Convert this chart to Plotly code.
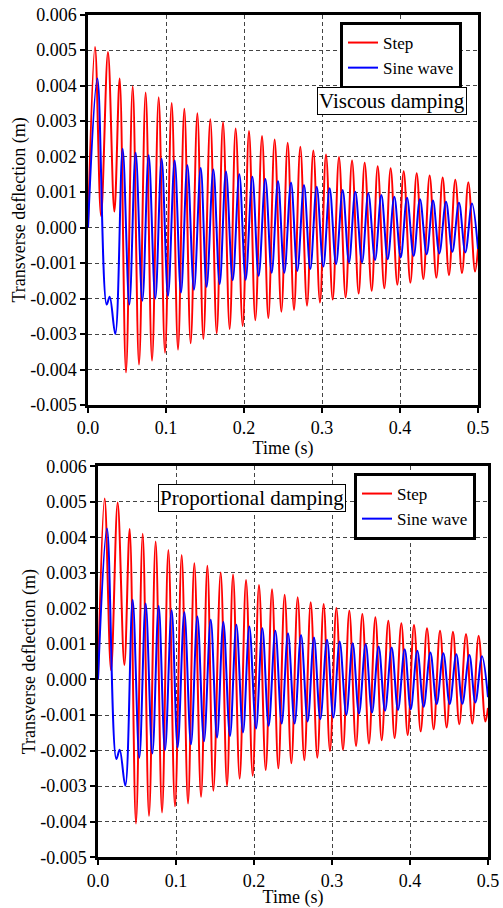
import plotly.graph_objects as go

# ---------------- data ----------------
x_tick_vals = [0.0, 0.1, 0.2, 0.3, 0.4, 0.5]
x_tick_text = ["0.0", "0.1", "0.2", "0.3", "0.4", "0.5"]
y_tick_vals = [0.006, 0.005, 0.004, 0.003, 0.002, 0.001, 0.0, -0.001, -0.002, -0.003, -0.004, -0.005]
y_tick_text = ["0.006", "0.005", "0.004", "0.003", "0.002", "0.001", "0.000",
               "-0.001", "-0.002", "-0.003", "-0.004", "-0.005"]

# Top panel (viscous damping): step response, turning points
top_step_t = [0.0, 0.0090, 0.0167, 0.0256, 0.0338, 0.0406, 0.0487, 0.0573, 0.0654, 0.0739, 0.0821,
              0.0906, 0.0987, 0.1073, 0.1154, 0.1235, 0.1316, 0.1402, 0.1479, 0.1568, 0.1650,
              0.1731, 0.1816, 0.1893, 0.1983, 0.2064, 0.2145, 0.2231, 0.2312, 0.2393, 0.2479,
              0.2560, 0.2641, 0.2722, 0.2808, 0.2889, 0.2974, 0.3051, 0.3137, 0.3218, 0.3303,
              0.3385, 0.3470, 0.3547, 0.3637, 0.3714, 0.3799, 0.3880, 0.3966, 0.4047, 0.4133,
              0.4214, 0.4299, 0.4380, 0.4466, 0.4547, 0.4628, 0.4709, 0.4795, 0.4876, 0.4962, 0.5000]
top_step_v = [0.0, 0.00509, 0.00033, 0.00495, 0.00045, 0.00420, -0.00408, 0.00398, -0.00386, 0.00381, -0.00375,
              0.00367, -0.00353, 0.00351, -0.00344, 0.00335, -0.00326, 0.00322, -0.00314, 0.00305, -0.00298,
              0.00297, -0.00286, 0.00279, -0.00277, 0.00272, -0.00261, 0.00258, -0.00255, 0.00248, -0.00237,
              0.00239, -0.00232, 0.00228, -0.00220, 0.00217, -0.00211, 0.00206, -0.00203, 0.00199, -0.00197,
              0.00189, -0.00186, 0.00183, -0.00178, 0.00173, -0.00171, 0.00167, -0.00161, 0.00159, -0.00155,
              0.00153, -0.00145, 0.00147, -0.00141, 0.00141, -0.00134, 0.00135, -0.00128, 0.00128, -0.00124, -0.00060]

# Top panel: sine-wave response
top_sine_t = [0.0, 0.0120, 0.0239, 0.0278, 0.0350, 0.0444, 0.0530, 0.0611, 0.0697, 0.0778, 0.0863,
              0.0944, 0.1026, 0.1111, 0.1192, 0.1274, 0.1359, 0.1445, 0.1521, 0.1607, 0.1688,
              0.1769, 0.1855, 0.1940, 0.2021, 0.2107, 0.2188, 0.2274, 0.2355, 0.2436, 0.2517,
              0.2603, 0.2684, 0.2769, 0.2850, 0.2932, 0.3017, 0.3098, 0.3180, 0.3265, 0.3346,
              0.3427, 0.3513, 0.3594, 0.3680, 0.3761, 0.3842, 0.3927, 0.4009, 0.4090, 0.4175,
              0.4256, 0.4342, 0.4423, 0.4504, 0.4590, 0.4671, 0.4756, 0.4838, 0.4923, 0.5000]
top_sine_v = [0.0, 0.00420, -0.00217, -0.00195, -0.00300, 0.00222, -0.00217, 0.00211, -0.00206, 0.00204, -0.00200,
              0.00194, -0.00192, 0.00189, -0.00183, 0.00176, -0.00175, 0.00168, -0.00167, 0.00164, -0.00159,
              0.00158, -0.00148, 0.00150, -0.00147, 0.00143, -0.00136, 0.00137, -0.00127, 0.00131, -0.00127,
              0.00127, -0.00122, 0.00120, -0.00117, 0.00115, -0.00110, 0.00111, -0.00103, 0.00106, -0.00098,
              0.00101, -0.00098, 0.00097, -0.00091, 0.00092, -0.00089, 0.00087, -0.00084, 0.00084, -0.00080,
              0.00080, -0.00075, 0.00076, -0.00073, 0.00073, -0.00068, 0.00070, -0.00070, 0.00068, -0.00060]

# Bottom panel (proportional damping): step response
bot_step_t = [0.0, 0.0085, 0.0167, 0.0252, 0.0338, 0.0406, 0.0487, 0.0573, 0.0654, 0.0739, 0.0821,
              0.0902, 0.0987, 0.1073, 0.1154, 0.1235, 0.1321, 0.1402, 0.1479, 0.1573, 0.1654,
              0.1731, 0.1816, 0.1898, 0.1983, 0.2064, 0.2150, 0.2231, 0.2312, 0.2393, 0.2479,
              0.2560, 0.2645, 0.2727, 0.2812, 0.2893, 0.2974, 0.3056, 0.3141, 0.3222, 0.3308,
              0.3389, 0.3474, 0.3556, 0.3637, 0.3722, 0.3803, 0.3889, 0.3970, 0.4051, 0.4137,
              0.4218, 0.4303, 0.4385, 0.4470, 0.4551, 0.4632, 0.4718, 0.4799, 0.4880, 0.4966, 0.5000]
bot_step_v = [0.0, 0.00509, 0.00026, 0.00498, 0.00041, 0.00423, -0.00405, 0.00410, -0.00384, 0.00388, -0.00374,
              0.00364, -0.00357, 0.00350, -0.00349, 0.00327, -0.00330, 0.00320, -0.00313, 0.00301, -0.00299,
              0.00295, -0.00279, 0.00280, -0.00271, 0.00266, -0.00255, 0.00254, -0.00250, 0.00238, -0.00236,
              0.00231, -0.00227, 0.00217, -0.00220, 0.00212, -0.00201, 0.00201, -0.00198, 0.00193, -0.00187,
              0.00184, -0.00180, 0.00175, -0.00171, 0.00165, -0.00165, 0.00158, -0.00156, 0.00153, -0.00146,
              0.00144, -0.00140, 0.00137, -0.00135, 0.00134, -0.00126, 0.00128, -0.00124, 0.00123, -0.00118, -0.00080]

# Bottom panel: sine-wave response
bot_sine_t = [0.0, 0.0115, 0.0235, 0.0278, 0.0350, 0.0444, 0.0530, 0.0611, 0.0697, 0.0778, 0.0859,
              0.0944, 0.1021, 0.1107, 0.1192, 0.1274, 0.1359, 0.1445, 0.1526, 0.1607, 0.1692,
              0.1774, 0.1859, 0.1940, 0.2026, 0.2107, 0.2188, 0.2274, 0.2355, 0.2436, 0.2521,
              0.2603, 0.2688, 0.2769, 0.2850, 0.2936, 0.3017, 0.3098, 0.3184, 0.3265, 0.3346,
              0.3432, 0.3513, 0.3598, 0.3680, 0.3765, 0.3846, 0.3932, 0.4009, 0.4094, 0.4175,
              0.4261, 0.4342, 0.4427, 0.4509, 0.4594, 0.4671, 0.4761, 0.4838, 0.4923, 0.5000]
bot_sine_v = [0.0, 0.00425, -0.00224, -0.00198, -0.00299, 0.00224, -0.00220, 0.00214, -0.00208, 0.00207, -0.00199,
              0.00195, -0.00191, 0.00189, -0.00182, 0.00177, -0.00174, 0.00168, -0.00163, 0.00162, -0.00159,
              0.00154, -0.00149, 0.00149, -0.00138, 0.00144, -0.00130, 0.00137, -0.00124, 0.00130, -0.00124,
              0.00125, -0.00118, 0.00118, -0.00112, 0.00112, -0.00107, 0.00107, -0.00099, 0.00102, -0.00096,
              0.00099, -0.00093, 0.00093, -0.00088, 0.00090, -0.00086, 0.00085, -0.00084, 0.00081, -0.00077,
              0.00076, -0.00069, 0.00074, -0.00069, 0.00071, -0.00068, 0.00069, -0.00065, 0.00065, -0.00050]

series_names = ["Step", "Sine wave"]
series_colors = ["#ff0000", "#0000ff"]
panel_labels = ["Viscous damping", "Proportional damping"]
x_title = "Time (s)"
y_title = "Transverse deflection (m)"

# ---------------- figure ----------------
FONT = "Liberation Serif, Times New Roman, Times, serif"
W, H = 503, 908

fig = go.Figure()

fig.add_trace(go.Scatter(x=top_step_t, y=top_step_v, name=series_names[0], mode="lines",
                         line=dict(color=series_colors[0], width=2, shape="spline", smoothing=1.0),
                         xaxis="x", yaxis="y", legend="legend"))
fig.add_trace(go.Scatter(x=top_sine_t, y=top_sine_v, name=series_names[1], mode="lines",
                         line=dict(color=series_colors[1], width=2, shape="spline", smoothing=1.0),
                         xaxis="x", yaxis="y", legend="legend"))
fig.add_trace(go.Scatter(x=bot_step_t, y=bot_step_v, name=series_names[0], mode="lines",
                         line=dict(color=series_colors[0], width=2, shape="spline", smoothing=1.0),
                         xaxis="x2", yaxis="y2", legend="legend2"))
fig.add_trace(go.Scatter(x=bot_sine_t, y=bot_sine_v, name=series_names[1], mode="lines",
                         line=dict(color=series_colors[1], width=2, shape="spline", smoothing=1.0),
                         xaxis="x2", yaxis="y2", legend="legend2"))

tick_font = dict(family=FONT, size=18, color="black")
title_font = dict(family=FONT, size=18, color="black")

def xaxis_cfg(domain, anchor):
    return dict(domain=domain, anchor=anchor, range=[0, 0.5], tickvals=x_tick_vals, ticktext=x_tick_text,
                ticks="outside", ticklen=5, tickwidth=2, tickcolor="black",
                showline=True, linecolor="black", linewidth=2.5, mirror=True,
                showgrid=True, gridcolor="#444444", gridwidth=1, griddash="4px,3px",
                zeroline=False, tickfont=tick_font, automargin=False,
                title=dict(text=x_title, font=title_font, standoff=0))

def yaxis_cfg(domain, anchor):
    return dict(domain=domain, anchor=anchor, range=[-0.005, 0.006], tickvals=y_tick_vals, ticktext=y_tick_text,
                ticks="outside", ticklen=5, tickwidth=2, tickcolor="black",
                showline=True, linecolor="black", linewidth=2.5, mirror=True,
                showgrid=True, gridcolor="#444444", gridwidth=1, griddash="4px,3px",
                zeroline=False, tickfont=tick_font, automargin=False,
                title=dict(text=y_title, font=title_font, standoff=0))

fig.update_layout(
    width=W, height=H, autosize=False,
    margin=dict(l=0, r=0, t=0, b=0),
    paper_bgcolor="white", plot_bgcolor="white",
    font=dict(family=FONT, color="black"),
    xaxis=xaxis_cfg([88 / W, 478 / W], "y"),
    yaxis=yaxis_cfg([1 - 405 / H, 1 - 14.7 / H], "x"),
    xaxis2=xaxis_cfg([98 / W, 488 / W], "y2"),
    yaxis2=yaxis_cfg([1 - 857.2 / H, 1 - 466.2 / H], "x2"),
    legend=dict(x=340 / W, y=1 - 22 / H, xanchor="left", yanchor="top",
                bgcolor="white", bordercolor="black", borderwidth=3,
                font=dict(family=FONT, size=17, color="black"), tracegroupgap=0),
    legend2=dict(x=354 / W, y=1 - 473 / H, xanchor="left", yanchor="top",
                 bgcolor="white", bordercolor="black", borderwidth=3,
                 font=dict(family=FONT, size=17, color="black"), tracegroupgap=0),
    showlegend=True,
)

fig.add_annotation(text=panel_labels[0], xref="paper", yref="paper", x=392 / W, y=1 - 101 / H,
                   xanchor="center", yanchor="middle", showarrow=False,
                   font=dict(family=FONT, size=21, color="black"),
                   bgcolor="white", bordercolor="black", borderwidth=1, borderpad=1)
fig.add_annotation(text=panel_labels[1], xref="paper", yref="paper", x=251.7 / W, y=1 - 498 / H,
                   xanchor="center", yanchor="middle", showarrow=False,
                   font=dict(family=FONT, size=21, color="black"),
                   bgcolor="white", bordercolor="black", borderwidth=1, borderpad=1)

fig.write_html("out.html")
